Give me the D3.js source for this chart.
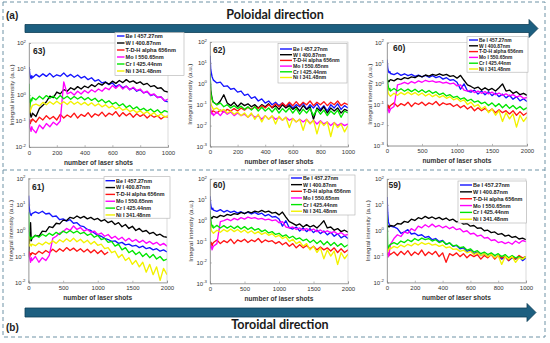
<!DOCTYPE html>
<html><head><meta charset="utf-8">
<script src="https://cdn.jsdelivr.net/npm/d3@7"></script>
<style>body{margin:0;background:#fff;}svg{display:block;}</style>
</head><body><svg id="c" width="550" height="343"></svg>
<script>
// ---------- categories / labels ----------
const seriesNames = ["Be I 457.27nm","W I 400.87nm","T-D-H alpha 656nm","Mo I 550.65nm","Cr I 425.44nm","Ni I 341.48nm"];
const seriesColors = ["#1414ff","#000000","#ff1414","#ff00ff","#00e600","#f2f200"];
const panelLabels = ["63)","62)","60)","61)","60)","59)"];
const xTicks1000 = [0,200,400,600,800,1000];
const xTicks2000 = [0,500,1000,1500,2000];
const yExpA = [-2,-1,0,1,2];
const yExpB = [-3,-2,-1,0,1,2];

// ---------- shot numbers (x) ----------
const shotsA = [1,5,10,15,20,25,50,75,100,125,150,175,200,225,250,275,300,325,350,375,400,425,450,475,500,525,550,575,600,625,650,675,700,725,750,775,800,825,850,875,900,925,950,975,1000];
const shotsB = [1,10,20,30,40,50,100,150,200,250,300,350,400,450,500,550,600,650,700,750,800,850,900,950,1000,1050,1100,1150,1200,1250,1300,1350,1400,1450,1500,1550,1600,1650,1700,1750,1800,1850,1900,1950,2000];

// ---------- shot 63 ----------
const be63 = [12,7,5,4.2,5.5, 4.6,6.2,5.0,6.5,5.2,6.8,4.9,6.0,5.3,7.0, 5.1,6.2,4.8,5.9,4.5,5.2,3.9,4.6,3.4,3.9, 2.9,3.2,2.5,2.9,2.1,2.5,1.9,2.2,1.6,1.9, 1.4,1.6,1.2,1.35,0.95,1.05,0.8,0.85,0.6,0.55];
const w63 = [1.0,0.3,0.18,0.14,0.16, 0.2,0.15,0.3,0.4,0.55,0.9,0.8,1.3,1.1,1.6, 1.4,1.9,1.6,2.1,1.7,2.2,1.9,2.5,2.1,2.8, 2.4,3.1,2.6,3.4,2.8,3.6,3.0,3.9,3.1,3.5, 2.8,3.2,2.5,2.8,2.1,2.3,1.8,1.9,1.4,1.3];
const td63 = [0.09,0.1,0.08,0.11,0.1, 0.12,0.09,0.14,0.11,0.16,0.12,0.15,0.11,0.18,0.13, 0.17,0.14,0.2,0.13,0.18,0.15,0.21,0.14,0.19,0.16, 0.22,0.15,0.2,0.17,0.23,0.15,0.21,0.16,0.2,0.14, 0.19,0.15,0.18,0.13,0.17,0.14,0.16,0.12,0.15,0.14];
const mo63 = [0.12,0.06,0.05,0.04,0.06, 0.05,0.035,0.07,0.05,0.08,0.06,0.09,0.07,0.1,3.2, 1.1,1.3,1.0,1.4,1.1,1.5,1.2,1.6,1.3,1.7, 1.4,1.9,1.6,2.3,1.8,2.4,1.7,2.2,1.6,2.0, 1.5,1.7,1.2,1.4,1.0,1.1,0.8,0.85,0.6,0.7];
const cr63 = [2.7,0.35,0.5,0.7,0.6, 0.8,0.65,0.9,0.7,0.95,0.75,0.9,0.7,0.95,0.72, 0.9,0.68,0.88,0.7,0.85,0.65,0.8,0.62,0.75,0.55, 0.68,0.5,0.6,0.45,0.52,0.38,0.46,0.33,0.4,0.29, 0.35,0.26,0.31,0.24,0.29,0.22,0.27,0.2,0.25,0.22];
const ni63 = [0.5,0.2,0.25,0.3,0.35, 0.4,0.45,0.38,0.52,0.42,0.55,0.44,0.58,0.45,0.55, 0.43,0.57,0.44,0.54,0.42,0.52,0.4,0.5,0.38,0.46, 0.35,0.42,0.32,0.38,0.29,0.34,0.26,0.3,0.23,0.27, 0.21,0.25,0.19,0.23,0.17,0.21,0.15,0.19,0.14,0.16];

// ---------- shot 62 ----------
const be62 = [22,5,3.2,2.2,1.8, 1.5,1.1,1.2,0.75,0.8,0.55,0.6,0.4,0.45,0.28, 0.32,0.2,0.24,0.15,0.19,0.12,0.15,0.1,0.13,0.09, 0.12,0.08,0.11,0.07,0.1,0.08,0.12,0.06,0.1,0.07, 0.11,0.06,0.09,0.05,0.1,0.07,0.11,0.06,0.09,0.07];
const w62 = [3,0.5,0.3,0.2,0.15, 0.13,0.1,0.15,0.3,0.12,0.09,0.13,0.08,0.12,0.09, 0.11,0.08,0.1,0.07,0.1,0.08,0.11,0.07,0.09,0.06, 0.1,0.07,0.09,0.06,0.08,0.05,0.09,0.06,0.08,0.02, 0.07,0.05,0.08,0.04,0.07,0.05,0.07,0.04,0.06,0.05];
const td62 = [0.08,0.05,0.04,0.045,0.05, 0.05,0.04,0.055,0.045,0.06,0.05,0.065,0.05,0.07,0.055, 0.075,0.06,0.08,0.065,0.09,0.07,0.1,0.075,0.11,0.08, 0.12,0.085,0.13,0.09,0.14,0.09,0.13,0.1,0.15,0.09, 0.13,0.1,0.14,0.09,0.13,0.1,0.15,0.09,0.12,0.1];
const mo62 = [0.3,0.06,0.04,0.035,0.04, 0.03,0.045,0.03,0.05,0.035,0.045,0.03,0.04,0.03,0.035, 0.025,0.035,0.025,0.03,0.02,0.03,0.02,0.028,0.02,0.025, 0.018,0.025,0.018,0.022,0.015,0.02,0.015,0.02,0.013,0.018, 0.012,0.017,0.012,0.015,0.01,0.014,0.01,0.013,0.01,0.012];
const cr62 = [3,0.4,0.25,0.18,0.15, 0.13,0.1,0.12,0.08,0.1,0.07,0.09,0.065,0.085,0.06, 0.08,0.055,0.08,0.05,0.075,0.05,0.07,0.045,0.07,0.04, 0.065,0.045,0.07,0.04,0.065,0.035,0.06,0.04,0.065,0.03, 0.06,0.035,0.055,0.03,0.05,0.035,0.055,0.025,0.05,0.04];
const ni62 = [0.6,0.12,0.09,0.08,0.07, 0.06,0.07,0.05,0.06,0.04,0.05,0.035,0.045,0.03,0.04, 0.025,0.04,0.02,0.035,0.015,0.03,0.02,0.03,0.012,0.028, 0.018,0.025,0.008,0.022,0.015,0.02,0.006,0.02,0.012,0.018, 0.004,0.016,0.01,0.015,0.003,0.014,0.008,0.012,0.005,0.01];

// ---------- shot 60 ----------
const be60 = [15,6,4,3.5,4, 3.2,2.8,3.4,2.6,3.1,2.5,2.9,2.3,2.7,2.2, 2.6,2.1,2.5,2.0,2.3,1.7,2.0,1.5,1.6,1.2, 0.55,1.0,0.45,0.4,0.5,0.32,0.45,0.3,0.42,0.27, 0.36,0.24,0.32,0.21,0.28,0.18,0.24,0.15,0.19,0.14];
const w60 = [1.0,1.2,1.4,1.3,1.5, 1.6,1.4,1.8,1.6,2.0,1.8,2.2,2.0,2.5,2.2, 2.7,2.4,2.9,2.6,3.1,2.6,2.9,2.3,2.5,1.9, 2.6,1.5,0.9,0.75,0.6,0.7,0.5,0.65,0.5,0.6, 0.45,0.65,1.0,0.45,0.5,0.35,0.42,0.3,0.35,0.28];
const td60 = [0.1,0.07,0.09,0.06,0.08, 0.09,0.12,0.08,0.11,0.09,0.13,0.08,0.12,0.1,0.13, 0.09,0.12,0.1,0.14,0.09,0.12,0.1,0.11,0.08,0.1, 0.07,0.09,0.06,0.08,0.05,0.07,0.05,0.065,0.045,0.06, 0.04,0.055,0.04,0.05,0.035,0.05,0.03,0.045,0.03,0.04];
const mo60 = [0.08,0.05,0.06,0.04,0.05, 0.06,0.08,0.9,1.0,1.2,1.0,1.3,1.1,1.4,1.2, 1.5,1.3,1.4,1.2,1.3,1.1,1.2,1.0,1.1,0.8, 0.9,0.5,0.45,0.5,0.38,0.45,0.35,0.42,0.33,0.4, 0.3,0.36,0.28,0.33,0.26,0.3,0.23,0.27,0.2,0.22];
const cr60 = [3,1.2,0.7,0.5,0.6, 0.45,0.6,0.45,0.58,0.44,0.56,0.42,0.55,0.4,0.52, 0.38,0.48,0.35,0.42,0.3,0.36,0.26,0.3,0.22,0.25, 0.18,0.21,0.15,0.18,0.13,0.15,0.11,0.13,0.09,0.12, 0.08,0.11,0.07,0.1,0.065,0.09,0.06,0.08,0.055,0.07];
const ni60 = [1.0,0.5,0.35,0.3,0.28, 0.25,0.35,0.28,0.38,0.3,0.4,0.3,0.38,0.28,0.36, 0.26,0.33,0.24,0.3,0.22,0.27,0.2,0.24,0.17,0.2, 0.14,0.17,0.1,0.13,0.08,0.1,0.06,0.08,0.04,0.06, 0.03,0.05,0.015,0.04,0.02,0.035,0.008,0.03,0.015,0.025];

// ---------- shot 61 ----------
const be61 = [22,8,5,4,3.8, 4.5,5.2,4.6,5.5,4.3,4.6,3.4,3.6,2.6,2.8, 2.3,2.6,1.9,2.0,1.5,1.4,1.1,1.0,0.8,0.65, 0.6,0.5,0.45,0.38,0.4,0.32,0.35,0.28,0.3,0.25, 0.27,0.22,0.25,0.2,0.22,0.18,0.2,0.16,0.18,0.15];
const w61 = [0.1,0.3,0.5,2.0,0.4, 0.5,0.65,0.6,0.95,0.9,1.4,1.3,1.9,1.8,2.5, 2.4,3.2,2.9,3.6,3.0,3.5,2.8,3.2,2.6,2.9, 2.3,2.6,2.0,2.3,1.7,2.0,1.4,1.7,1.2,1.45, 1.0,1.2,0.9,1.0,0.75,0.85,0.65,0.72,0.58,0.55];
const td61 = [0.12,0.15,0.1,0.13,0.12, 0.14,0.12,0.16,0.13,0.17,0.14,0.19,0.15,0.2,0.16, 0.22,0.17,0.21,0.16,0.2,0.15,0.19,0.14,0.18,0.13, 0.17,0.12,0.15];
const mo61 = [0.15,0.1,0.08,0.06,0.09, 0.07,0.1,0.06,0.09,0.07,0.11,0.5,0.6,0.8,0.9, 1.2,1.0,1.5,1.1,1.3,0.95,1.1,0.85,0.95,0.7, 0.8,0.6,0.7,0.5,0.6,0.45,0.55,0.4,0.5,0.38, 0.45,0.35,0.42,0.32,0.38,0.3,0.35,0.27,0.32,0.25];
const cr61 = [5,0.8,0.5,0.45,0.55, 0.5,0.65,0.55,0.72,0.6,0.78,0.65,0.85,0.7,0.95, 0.8,1.0,0.8,0.95,0.75,0.85,0.65,0.75,0.55,0.65, 0.45,0.5,0.35,0.38,0.25,0.3,0.18,0.22,0.14,0.17, 0.12,0.15,0.1,0.13,0.09,0.12,0.08,0.1,0.07,0.08];
const ni61 = [0.6,0.25,0.28,0.3,0.25, 0.3,0.26,0.33,0.28,0.36,0.3,0.4,0.32,0.44,0.36, 0.48,0.38,0.5,0.37,0.46,0.34,0.42,0.3,0.38,0.27, 0.3,0.2,0.22,0.14,0.16,0.09,0.12,0.07,0.09,0.05, 0.07,0.04,0.06,0.025,0.05,0.02,0.04,0.012,0.035,0.02];

// ---------- shot 59 ----------
const be59 = [20,5,2.2,1.8,1.6, 1.5,1.4,1.2,0.8,0.9,1.1,0.75,0.8,0.65,0.7, 0.55,0.6,0.45,0.5,0.38,0.42,0.3,0.34,0.25,0.27, 0.2,0.22,0.16,0.18,0.13,0.15,0.11,0.13,0.1,0.12, 0.09,0.11,0.08,0.1,0.07,0.09,0.08,0.1,0.07,0.09];
const w59 = [1.5,1.6,1.5,1.4,1.5, 1.6,1.5,1.9,1.8,2.3,2.1,2.8,2.5,3.2,2.9, 3.6,3.0,3.4,2.9,3.3,2.7,3.1,2.5,2.8,2.2, 2.3,1.8,1.9,1.5,1.6,1.25,1.3,1.0,1.05,0.85, 0.9,0.72,0.78,0.62,0.68,0.55,0.6,0.48,0.52,0.45];
const td59 = [0.15,0.12,0.14,0.11,0.13, 0.12,0.15,0.11,0.16,0.12,0.17,0.11,0.15,0.12,0.18, 0.11,0.15,0.12,0.16,0.1,0.14,0.06,0.13,0.11,0.14, 0.1,0.13,0.09,0.12,0.1,0.12,0.08,0.11,0.09,0.12, 0.08,0.11,0.09,0.1,0.07,0.1,0.08,0.11,0.09,0.1];
const mo59 = [0.3,0.15,0.1,0.12,0.2, 0.3,0.5,0.7,0.6,0.9,0.8,1.2,1.0,1.5,1.3, 1.7,1.4,1.8,1.4,1.6,1.3,1.5,1.2,1.4,1.1, 1.2,0.9,1.0,0.75,0.8,0.62,0.68,0.52,0.55,0.42, 0.45,0.35,0.38,0.32,0.36,0.3,0.4,0.33,0.42,0.38];
const cr59 = [4,0.3,0.2,0.25,0.28, 0.3,0.35,0.3,0.4,0.35,0.45,0.38,0.5,0.42,0.52, 0.45,0.5,0.4,0.45,0.35,0.4,0.3,0.34,0.26,0.28, 0.22,0.24,0.18,0.2,0.15,0.17,0.13,0.15,0.12,0.14, 0.11,0.13,0.1,0.12,0.09,0.11,0.09,0.1,0.08,0.1];
const ni59 = [0.2,0.15,0.18,0.2,0.22, 0.2,0.25,0.22,0.28,0.24,0.3,0.26,0.33,0.28,0.35, 0.3,0.33,0.28,0.3,0.25,0.28,0.22,0.24,0.19,0.2, 0.16,0.18,0.14,0.16,0.12,0.14,0.11,0.13,0.1,0.12, 0.09,0.11,0.05,0.1,0.08,0.1,0.06,0.09,0.08,0.1];

// ---------- layout (positions only) ----------
const panels = [
 {label:panelLabels[0], shots:shotsA, data:[be63,w63,td63,mo63,cr63,ni63], xmax:1000, xt:xTicks1000, ye:yExpA,
  l:29,r:168,t:43,b:147, lab:[33,53.5], yl:12, leg:{x:115,y:32.5,w:69,h:43,r0:36,dy:7,l0:117,l1:124.5,tx:125.5,fs:5.6}},
 {label:panelLabels[1], shots:shotsA, data:[be62,w62,td62,mo62,cr62,ni62], xmax:1000, xt:xTicks1000, ye:yExpB,
  l:210,r:348,t:42,b:146.5, lab:[213,53], yl:190, leg:{x:278,y:43.5,w:69,h:39.5,r0:49,dy:5.7,l0:280,l1:292,tx:293,fs:5.2}},
 {label:panelLabels[2], shots:shotsB, data:[be60,w60,td60,mo60,cr60,ni60], xmax:2000, xt:xTicks2000, ye:yExpB,
  l:387,r:527,t:42.7,b:145.7, lab:[393,50.5], yl:370, leg:{x:467,y:36.7,w:61,h:35.5,r0:40,dy:5.8,l0:469,l1:478,tx:479,fs:4.9}},
 {label:panelLabels[3], shots:shotsB, data:[be61,w61,td61,mo61,cr61,ni61], xmax:2000, xt:xTicks2000, ye:yExpA,
  l:28.5,r:167,t:178.5,b:282.5, lab:[32,189.5], yl:11, leg:{x:104,y:176.7,w:66,h:41.5,r0:180.7,dy:6.85,l0:105.5,l1:115,tx:116,fs:5.4}},
 {label:panelLabels[4], shots:shotsB, data:[be60,w60,td60,mo60,cr60,ni60], xmax:2000, xt:xTicks2000, ye:yExpB,
  l:210,r:348,t:179,b:283.3, lab:[213,188], yl:190.5, leg:{x:289,y:175,w:66,h:40,r0:178,dy:6.65,l0:291,l1:302,tx:303,fs:5.3}},
 {label:panelLabels[5], shots:shotsA, data:[be59,w59,td59,mo59,cr59,ni59], xmax:1000, xt:xTicks1000, ye:yExpA,
  l:387,r:526,t:179,b:282.5, lab:[388.5,188], yl:367.5, leg:{x:458,y:181,w:68.5,h:42,r0:185,dy:6.85,l0:460,l1:472,tx:473,fs:5.5}}
];

const svg = d3.select("#c");
const F = "'Liberation Sans', Arial, sans-serif";
const frame = "#6f93a6";

// dashed frames
svg.append("rect").attr("x",3).attr("y",2).attr("width",542).attr("height",335)
  .attr("fill","none").attr("stroke",frame).attr("stroke-width",1).attr("stroke-dasharray","4,3");
svg.append("line").attr("x1",3).attr("x2",545).attr("y1",170).attr("y2",170)
  .attr("stroke",frame).attr("stroke-width",1).attr("stroke-dasharray","4,3");

// arrows
function arrow(x0, x1, yT, yB, hT, hB, tip){
  const ym = (yT+yB)/2;
  const pts = [[x0,yT],[x1,yT],[x1,hT],[tip,ym],[x1,hB],[x1,yB],[x0,yB]];
  svg.append("path").attr("d", d3.line()(pts)+"Z")
    .attr("fill","#1d5f80").attr("stroke","#0e3d56").attr("stroke-width",0.8);
}
arrow(25,529,24.5,32.5,19.5,37.5,538);
arrow(25,527,308,317,303.5,321.5,536);

// titles
svg.append("text").attr("x",275).attr("y",18.5).attr("text-anchor","middle")
  .attr("font-family","Lato, 'Open Sans', sans-serif").attr("font-weight","bold").attr("font-size",12.5)
  .attr("fill","#1a1a1a").text("Poloidal direction");
svg.append("text").attr("x",280).attr("y",328.5).attr("text-anchor","middle")
  .attr("font-family","Lato, 'Open Sans', sans-serif").attr("font-weight","bold").attr("font-size",12.5)
  .attr("fill","#1a1a1a").text("Toroidal direction");
svg.append("text").attr("x",6).attr("y",19).attr("font-family",F).attr("font-weight","bold")
  .attr("font-size",10).attr("fill","#222").text("(a)");
svg.append("text").attr("x",6).attr("y",331).attr("font-family",F).attr("font-weight","bold")
  .attr("font-size",10).attr("fill","#222").text("(b)");

panels.forEach((p,pi)=>{
  const g = svg.append("g");
  const x = d3.scaleLinear().domain([0,p.xmax]).range([p.l,p.r]);
  const y = d3.scaleLog().domain([Math.pow(10,p.ye[0]), Math.pow(10,p.ye[p.ye.length-1])]).range([p.b,p.t]);

  g.append("rect").attr("x",p.l).attr("y",p.t).attr("width",p.r-p.l).attr("height",p.b-p.t).attr("fill","#fff");

  const cid = "clip"+pi;
  g.append("clipPath").attr("id",cid).append("rect")
    .attr("x",p.l).attr("y",p.t).attr("width",p.r-p.l).attr("height",p.b-p.t);

  const line = d3.line().x(d=>x(d[0])).y(d=>y(d[1]));
  const lines = g.append("g").attr("clip-path",`url(#${cid})`);
  p.data.forEach((vals,si)=>{
    const pts = vals.map((v,i)=>[p.shots[i], v]);
    lines.append("path").attr("d",line(pts)).attr("fill","none")
      .attr("stroke",seriesColors[si]).attr("stroke-width",1.35).attr("stroke-linejoin","round");
  });

  // box
  g.append("rect").attr("x",p.l).attr("y",p.t).attr("width",p.r-p.l).attr("height",p.b-p.t)
    .attr("fill","none").attr("stroke","#c4c4c4").attr("stroke-width",0.6);

  // x axis
  const xa = g.append("g").attr("transform",`translate(0,${p.b})`)
    .call(d3.axisBottom(x).tickValues(p.xt).tickSize(-1.8).tickPadding(4.5).tickFormat(d3.format("d")));
  xa.select(".domain").attr("stroke","#8a8a8a").attr("stroke-width",0.7);
  xa.selectAll(".tick line").attr("stroke","#8a8a8a").attr("stroke-width",0.6);
  xa.selectAll("text").attr("font-family",F).attr("font-size",6).attr("fill","#333").attr("dy","0.5em");

  // y axis
  const ya = g.append("g").attr("transform",`translate(${p.l},0)`)
    .call(d3.axisLeft(y).tickValues(p.ye.map(e=>Math.pow(10,e))).tickSize(-1.8).tickFormat(""));
  ya.select(".domain").attr("stroke","#8a8a8a").attr("stroke-width",0.7);
  ya.selectAll(".tick line").attr("stroke","#8a8a8a").attr("stroke-width",0.6);
  p.ye.forEach(e=>{
    const tx = g.append("text").attr("x",p.l-3).attr("y",y(Math.pow(10,e))+2.2)
      .attr("text-anchor","end").attr("font-family",F).attr("fill","#333");
    tx.append("tspan").attr("font-size",6).text("10");
    tx.append("tspan").attr("font-size",4.3).attr("dy",-2.6).text(String(e));
  });

  // axis labels
  g.append("text").attr("x",(p.l+p.r)/2).attr("y",p.b+17.5).attr("text-anchor","middle")
    .attr("font-family",F).attr("font-weight","bold").attr("font-size",6.6).attr("fill","#333")
    .text("number of laser shots");
  g.append("text").attr("transform",`translate(${p.yl},${(p.t+p.b)/2}) rotate(-90)`)
    .attr("text-anchor","middle").attr("dy","0.35em")
    .attr("font-family",F).attr("font-size",6.2).attr("fill","#333")
    .text("Integral intensity (a.u.)");

  // panel label
  g.append("text").attr("x",p.lab[0]).attr("y",p.lab[1]).attr("font-family",F)
    .attr("font-weight","bold").attr("font-size",8.5).attr("fill","#222").text(p.label);

  // legend
  const L = p.leg;
  const lg = g.append("g");
  lg.append("rect").attr("x",L.x).attr("y",L.y).attr("width",L.w).attr("height",L.h)
    .attr("fill","#fff").attr("stroke","#b0b0b0").attr("stroke-width",0.6);
  seriesNames.forEach((n,si)=>{
    const yy = L.r0 + L.dy*si;
    lg.append("line").attr("x1",L.l0).attr("x2",L.l1).attr("y1",yy).attr("y2",yy)
      .attr("stroke",seriesColors[si]).attr("stroke-width",1.4);
    lg.append("text").attr("x",L.tx).attr("y",yy+L.fs*0.36).attr("font-family",F)
      .attr("font-weight","bold").attr("font-size",L.fs).attr("fill","#222").text(n);
  });
});
</script></body></html>
